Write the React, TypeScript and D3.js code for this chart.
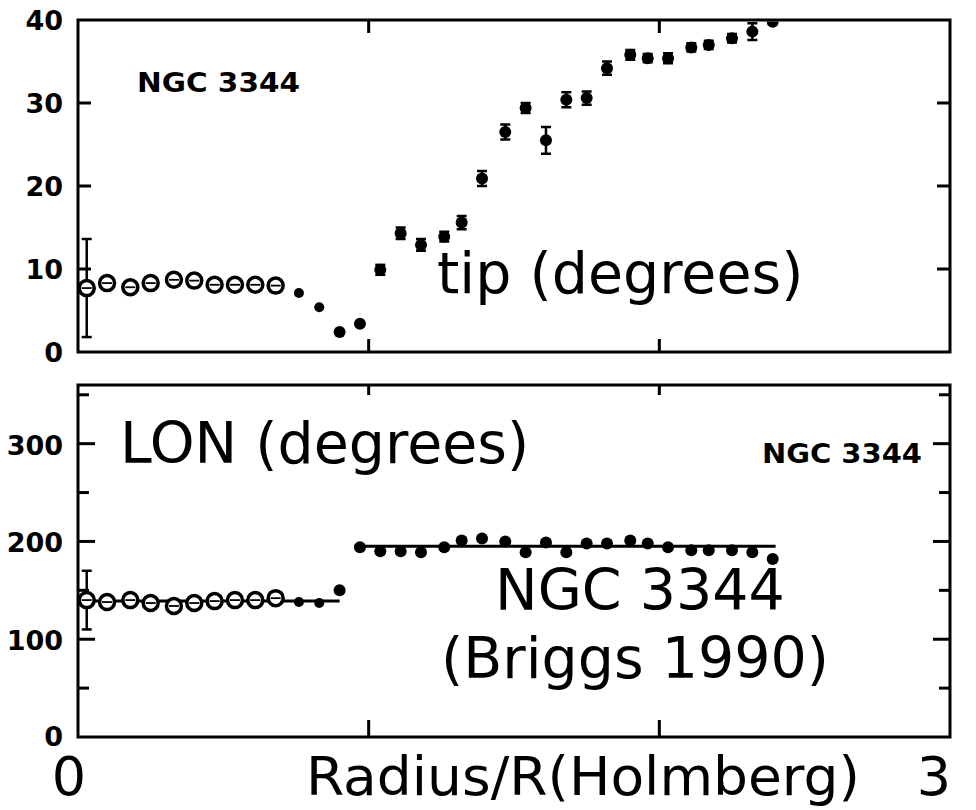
import React from "react";
import * as d3 from "d3";

// Warp of NGC 3344: tip and line-of-nodes angle against radius (Briggs 1990)
const radius = [
  0.03, 0.10, 0.18, 0.25, 0.33, 0.40, 0.47, 0.54, 0.61, 0.68, 0.76, 0.83,
  0.90, 0.97, 1.04, 1.11, 1.18, 1.26, 1.32, 1.39, 1.47, 1.54, 1.61, 1.68,
  1.75, 1.82, 1.90, 1.96, 2.03, 2.11, 2.17, 2.25, 2.32, 2.39,
];
const tip = [
  7.7, 8.3, 7.8, 8.3, 8.7, 8.6, 8.1, 8.1, 8.1, 8.0, 7.1, 5.4,
  2.4, 3.4, 9.9, 14.3, 12.9, 13.9, 15.6, 20.9, 26.5, 29.4, 25.5, 30.4,
  30.6, 34.2, 35.8, 35.4, 35.4, 36.7, 37.0, 37.8, 38.6, 39.8,
];
const tipErr = [
  5.9, 0.6, 0, 0, 0, 0, 0, 0, 0, 0, 0, 0,
  0, 0, 0.6, 0.7, 0.7, 0.6, 0.8, 0.9, 0.9, 0.6, 1.6, 0.9,
  0.8, 0.8, 0.6, 0.5, 0.6, 0.5, 0.5, 0.5, 1.0, 0.3,
];
const lon = [
  140, 138, 140, 137, 134, 137, 139, 140, 140, 142, 138, 137,
  150, 194, 190, 190, 189, 194, 201, 203, 200, 189, 199, 189,
  198, 198, 201, 198, 194, 191, 191, 191, 189, 182,
];
const lonErr = [30, 0, 0, 0, 0, 0, 0, 0, 0, 0, 0, 0, 0, 0, 0, 0, 0, 0, 0, 0, 0, 0, 0, 0, 0, 0, 0, 0, 0, 0, 0, 0, 0, 0];

// Piecewise constant fits to the line of nodes
const fitStart = [0.03, 0.95];
const fitEnd = [0.90, 2.40];
const fitValue = [139, 195];

const tipTicks = [0, 10, 20, 30, 40];
const tipTickLabels = ["0", "10", "20", "30", "40"];
const lonTicks = [0, 50, 100, 150, 200, 250, 300, 350];
const lonTickLabels = ["0", "100", "200", "300"];
const lonLabelValues = [0, 100, 200, 300];
const radiusTicks = [1, 2];

const W = 976;
const H = 810;

const x = d3.scaleLinear().domain([0, 3]).range([78, 950]);
const yTip = d3.scaleLinear().domain([0, 40]).range([352, 20]);
const yLon = d3.scaleLinear().domain([0, 360]).range([737, 385]);

const bigFont = "'DejaVu Sans', Verdana, sans-serif";
const tickFont = "'DejaVu Sans', sans-serif";

function Marker({ cx, cy, i }: { cx: number; cy: number; i: number }) {
  if (i < 10) {
    return (
      <g>
        <circle cx={cx} cy={cy} r={7.5} fill="#fff" stroke="#000" strokeWidth={3.5} />
        <line x1={cx - 5} x2={cx + 5} y1={cy} y2={cy} stroke="#000" strokeWidth={1.8} />
      </g>
    );
  }
  if (i < 12) return <circle cx={cx} cy={cy} r={5} fill="#000" />;
  return <circle cx={cx} cy={cy} r={6} fill="#000" />;
}

function ErrBar({ cx, y0, y1 }: { cx: number; y0: number; y1: number }) {
  return (
    <g stroke="#000" strokeWidth={2.5}>
      <line x1={cx} x2={cx} y1={y0} y2={y1} />
      <line x1={cx - 5} x2={cx + 5} y1={y0} y2={y0} />
      <line x1={cx - 5} x2={cx + 5} y1={y1} y2={y1} />
    </g>
  );
}

export default function App() {
  const [xl, xr] = x.range();
  const line = d3
    .line<number>()
    .x((d) => x(d))
    .y(() => 0);

  const tipTop = yTip(40);
  const tipBot = yTip(0);
  const lonTop = yLon(360);
  const lonBot = yLon(0);

  return (
    <svg
      width={W}
      height={H}
      viewBox={`0 0 ${W} ${H}`}
      style={{ position: "absolute", left: 0, top: 0, background: "#fff" }}
    >
      <defs>
        <clipPath id="tipClip">
          <rect x={xl} y={tipTop + 1.5} width={xr - xl} height={tipBot - tipTop - 1.5} />
        </clipPath>
      </defs>
      <rect width={W} height={H} fill="#fff" />

      {/* ---------- upper panel: tip ---------- */}
      {tipTicks.slice(1, -1).map((t) => (
        <g key={`tt${t}`} stroke="#000" strokeWidth={3}>
          <line x1={xl} x2={xl + 13} y1={yTip(t)} y2={yTip(t)} />
          <line x1={xr} x2={xr - 13} y1={yTip(t)} y2={yTip(t)} />
        </g>
      ))}
      {radiusTicks.map((r) => (
        <g key={`tx${r}`} stroke="#000" strokeWidth={3}>
          <line x1={x(r)} x2={x(r)} y1={tipTop} y2={tipTop + 13} />
          <line x1={x(r)} x2={x(r)} y1={tipBot} y2={tipBot - 13} />
        </g>
      ))}
      {tipTicks.map((t, i) => (
        <text
          key={`tl${t}`}
          x={63}
          y={yTip(t) + 10}
          textAnchor="end"
          fontFamily={tickFont}
          fontWeight="bold"
          fontSize={27}
        >
          {tipTickLabels[i]}
        </text>
      ))}
      <text x={137} y={92} fontFamily={tickFont} fontWeight="bold" fontSize={27} textLength={163} lengthAdjust="spacingAndGlyphs">
        NGC 3344
      </text>

      <g clipPath="url(#tipClip)">
        {tip.map((v, i) =>
          tipErr[i] > 0 ? (
            <ErrBar key={`te${i}`} cx={x(radius[i])} y0={yTip(v + tipErr[i])} y1={yTip(v - tipErr[i])} />
          ) : null
        )}
        {tip.map((v, i) => (
          <Marker key={`tp${i}`} cx={x(radius[i])} cy={yTip(v)} i={i} />
        ))}
      </g>
      <rect x={xl} y={tipTop} width={xr - xl} height={tipBot - tipTop} fill="none" stroke="#000" strokeWidth={3} />

      <text x={437} y={293} fontFamily={bigFont} fontSize={57}>
        tip (degrees)
      </text>

      {/* ---------- lower panel: line of nodes ---------- */}
      <rect x={xl} y={lonTop} width={xr - xl} height={lonBot - lonTop} fill="none" stroke="#000" strokeWidth={3} />
      {lonTicks.slice(1).map((t) => {
        const len = t % 100 === 0 ? 17 : 11;
        return (
          <g key={`lt${t}`} stroke="#000" strokeWidth={3}>
            <line x1={xl} x2={xl + len} y1={yLon(t)} y2={yLon(t)} />
            <line x1={xr} x2={xr - len} y1={yLon(t)} y2={yLon(t)} />
          </g>
        );
      })}
      {radiusTicks.map((r) => (
        <g key={`lx${r}`} stroke="#000" strokeWidth={3}>
          <line x1={x(r)} x2={x(r)} y1={lonBot} y2={lonBot - 17} />
          <line x1={x(r)} x2={x(r)} y1={lonTop} y2={lonTop + 10} />
        </g>
      ))}
      {lonLabelValues.map((t, i) => (
        <text
          key={`ll${t}`}
          x={63}
          y={yLon(t) + (t === 0 ? 9 : 11)}
          textAnchor="end"
          fontFamily={tickFont}
          fontWeight="bold"
          fontSize={27}
        >
          {lonTickLabels[i]}
        </text>
      ))}
      <text x={762} y={463} fontFamily={tickFont} fontWeight="bold" fontSize={27} textLength={160} lengthAdjust="spacingAndGlyphs">
        NGC 3344
      </text>

      {fitValue.map((v, k) => (
        <path
          key={`fit${k}`}
          d={line([fitStart[k], fitEnd[k]]) || ""}
          transform={`translate(0,${yLon(v)})`}
          stroke="#000"
          strokeWidth={3}
          fill="none"
        />
      ))}
      {lon.map((v, i) =>
        lonErr[i] > 0 ? (
          <ErrBar key={`le${i}`} cx={x(radius[i])} y0={yLon(v + lonErr[i])} y1={yLon(v - lonErr[i])} />
        ) : null
      )}
      {lon.map((v, i) => (
        <Marker key={`lp${i}`} cx={x(radius[i])} cy={yLon(v)} i={i} />
      ))}

      <text x={120} y={463} fontFamily={bigFont} fontSize={57}>
        LON (degrees)
      </text>
      <text x={495} y={610} fontFamily={bigFont} fontSize={57}>
        NGC 3344
      </text>
      <text x={441} y={678} fontFamily={bigFont} fontSize={57}>
        (Briggs 1990)
      </text>

      {/* ---------- radius axis ---------- */}
      <text x={x(0) - 9} y={795} textAnchor="middle" fontFamily={bigFont} fontSize={54}>
        0
      </text>
      <text x={x(3) + 1} y={795} textAnchor="end" fontFamily={bigFont} fontSize={54}>
        3
      </text>
      <text x={306} y={795} fontFamily={bigFont} fontSize={54} textLength={554} lengthAdjust="spacingAndGlyphs">
        Radius/R(Holmberg)
      </text>
    </svg>
  );
}
